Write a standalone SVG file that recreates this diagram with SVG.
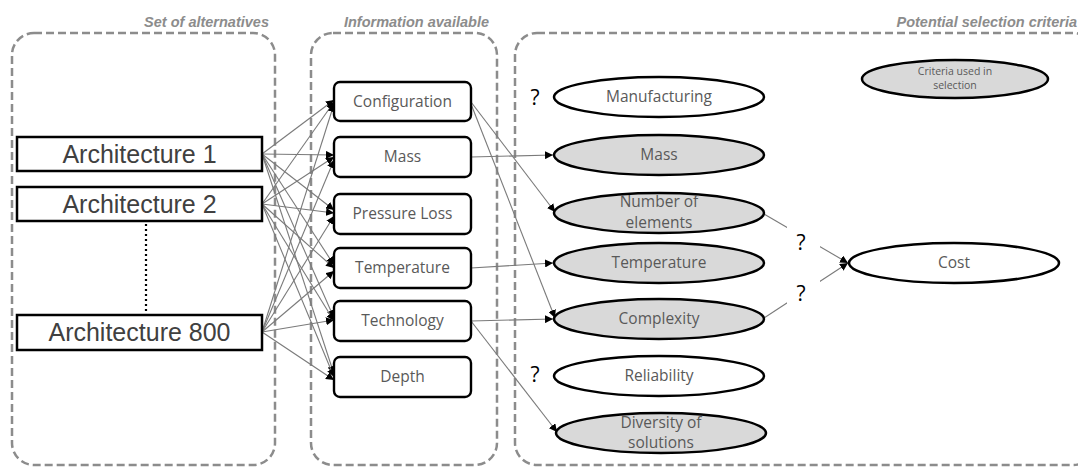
<svg xmlns="http://www.w3.org/2000/svg" width="1078" height="467" viewBox="0 0 1078 467">
<style>
.panel{fill:none;stroke:#8c8c8c;stroke-width:2.5;stroke-dasharray:8 4}
.title{font-family:"Liberation Sans",Arial,sans-serif;font-weight:bold;font-style:italic;font-size:14.5px;fill:#8c8c8c;text-anchor:end}
.arch{fill:#fff;stroke:#000;stroke-width:2.5}
.archt{font-family:"Liberation Sans",Arial,sans-serif;font-size:25px;fill:#404040;text-anchor:middle}
.info{fill:#fff;stroke:#000;stroke-width:2.4}
.lbl{font-family:"Open Sans","Noto Sans",sans-serif;font-size:15.5px;fill:#595959;text-anchor:middle}
.small{font-family:"Open Sans","Noto Sans",sans-serif;font-size:10.5px;fill:#595959;text-anchor:middle}
.used{fill:#d9d9d9;stroke:#000;stroke-width:2.5}
.unused{fill:#fff;stroke:#000;stroke-width:2.5}
.q{font-family:"Open Sans","Noto Sans",sans-serif;font-size:21px;fill:#000;text-anchor:middle}
.c{fill:none;stroke:#7a7a7a;stroke-width:1.1;marker-end:url(#ah)}
</style>
<defs>
<marker id="ah" viewBox="0 0 10 10" refX="10" refY="5" markerWidth="8" markerHeight="8" markerUnits="userSpaceOnUse" orient="auto">
<path d="M0,0 L10,5 L0,10 z" fill="#000"/>
</marker>
</defs>
<rect width="1078" height="467" fill="#fff"/>

<g id="panels">
<rect class="panel" x="12" y="33" width="263" height="432" rx="22"/>
<rect class="panel" x="311" y="33" width="186" height="432" rx="22"/>
<rect class="panel" x="515" y="33" width="580" height="432" rx="22"/>
<text class="title" x="269" y="27">Set of alternatives</text>
<text class="title" x="489" y="27">Information available</text>
<text class="title" x="1077" y="27">Potential selection criteria</text>
</g>

<g id="connectors">
<line class="c" x1="262" y1="154" x2="334" y2="100"/>
<line class="c" x1="262" y1="154" x2="334" y2="155"/>
<line class="c" x1="262" y1="154" x2="334" y2="210"/>
<line class="c" x1="262" y1="154" x2="334" y2="265"/>
<line class="c" x1="262" y1="154" x2="334" y2="318"/>
<line class="c" x1="262" y1="154" x2="334" y2="374"/>
<line class="c" x1="262" y1="204" x2="334" y2="102"/>
<line class="c" x1="262" y1="204" x2="334" y2="157"/>
<line class="c" x1="262" y1="204" x2="334" y2="213"/>
<line class="c" x1="262" y1="204" x2="334" y2="268"/>
<line class="c" x1="262" y1="204" x2="334" y2="321"/>
<line class="c" x1="262" y1="204" x2="334" y2="377"/>
<line class="c" x1="262" y1="332" x2="334" y2="104"/>
<line class="c" x1="262" y1="332" x2="334" y2="160"/>
<line class="c" x1="262" y1="332" x2="334" y2="216"/>
<line class="c" x1="262" y1="332" x2="334" y2="271"/>
<line class="c" x1="262" y1="332" x2="334" y2="320"/>
<line class="c" x1="262" y1="332" x2="334" y2="380"/>
<line class="c" x1="471" y1="157" x2="553" y2="155"/>
<line class="c" x1="471" y1="268" x2="553" y2="263"/>
<line class="c" x1="471" y1="321" x2="553" y2="319"/>
<line class="c" x1="471" y1="321" x2="557" y2="432"/>
<line class="c" x1="471" y1="102" x2="555" y2="212"/>
<line class="c" x1="471" y1="104" x2="555" y2="318"/>
<line class="c" x1="764" y1="214" x2="848" y2="263"/>
<line class="c" x1="764" y1="318" x2="848" y2="263"/>
<rect x="787" y="220" width="33" height="48" fill="#fff"/>
<rect x="787" y="274" width="33" height="38" fill="#fff"/>
</g>

<g id="arch1"><rect class="arch" x="17" y="137" width="245" height="34"/><text class="archt" x="139.5" y="163">Architecture 1</text></g>
<g id="arch2"><rect class="arch" x="17" y="187" width="245" height="34"/><text class="archt" x="139.5" y="213">Architecture 2</text></g>
<g id="dots"><line x1="146" y1="224" x2="146" y2="312" stroke="#000" stroke-width="2.2" stroke-dasharray="2 3"/></g>
<g id="arch800"><rect class="arch" x="17" y="315" width="245" height="35"/><text class="archt" x="139.5" y="341">Architecture 800</text></g>

<g id="configuration"><rect class="info" x="334" y="82" width="137" height="39" rx="6"/><text class="lbl" x="402.5" y="107">Configuration</text></g>
<g id="mass-info"><rect class="info" x="334" y="137" width="137" height="40" rx="6"/><text class="lbl" x="402.5" y="162">Mass</text></g>
<g id="pressure"><rect class="info" x="334" y="194" width="137" height="40" rx="6"/><text class="lbl" x="402.5" y="219">Pressure Loss</text></g>
<g id="temperature-info"><rect class="info" x="334" y="248" width="137" height="40" rx="6"/><text class="lbl" x="402.5" y="273">Temperature</text></g>
<g id="technology"><rect class="info" x="334" y="301" width="137" height="40" rx="6"/><text class="lbl" x="402.5" y="326">Technology</text></g>
<g id="depth"><rect class="info" x="334" y="357" width="137" height="40" rx="6"/><text class="lbl" x="402.5" y="382">Depth</text></g>

<g id="manufacturing"><ellipse class="unused" cx="659" cy="97" rx="105" ry="20"/><text class="lbl" x="659" y="102">Manufacturing</text></g>
<g id="mass-crit"><ellipse class="used" cx="659" cy="155" rx="105" ry="20"/><text class="lbl" x="659" y="160">Mass</text></g>
<g id="elements"><ellipse class="used" cx="659" cy="213" rx="105" ry="20"/><text class="lbl" x="659" y="207">Number of</text><text class="lbl" x="659" y="228">elements</text></g>
<g id="temperature-crit"><ellipse class="used" cx="659" cy="263" rx="105" ry="20"/><text class="lbl" x="659" y="268">Temperature</text></g>
<g id="complexity"><ellipse class="used" cx="659" cy="319" rx="105" ry="20"/><text class="lbl" x="659" y="324">Complexity</text></g>
<g id="reliability"><ellipse class="unused" cx="659" cy="376" rx="105" ry="20"/><text class="lbl" x="659" y="381">Reliability</text></g>
<g id="diversity"><ellipse class="used" cx="661" cy="433" rx="105" ry="20"/><text class="lbl" x="661" y="428">Diversity of</text><text class="lbl" x="661" y="448">solutions</text></g>
<g id="cost"><ellipse class="unused" cx="954" cy="263" rx="105" ry="20"/><text class="lbl" x="954" y="268">Cost</text></g>
<g id="legend"><ellipse class="used" cx="955" cy="79" rx="93" ry="19"/><text class="small" x="955" y="75">Criteria used in</text><text class="small" x="955" y="89">selection</text></g>

<g id="questions">
<text class="q" x="535" y="105">?</text>
<text class="q" x="535" y="382">?</text>
<text class="q" x="801" y="250">?</text>
<text class="q" x="801" y="301">?</text>
</g>
</svg>
